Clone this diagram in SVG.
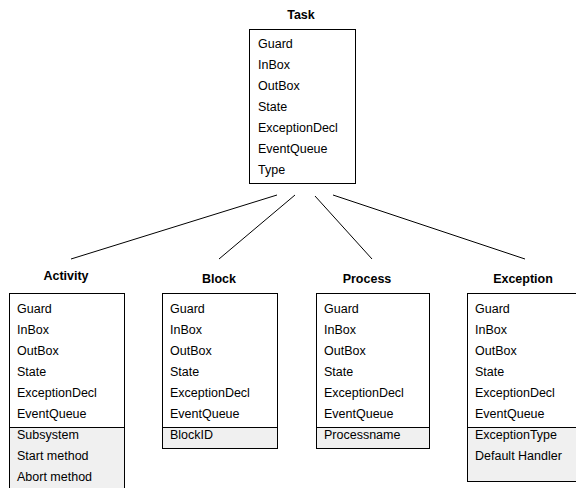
<svg xmlns="http://www.w3.org/2000/svg" width="576" height="488" viewBox="0 0 576 488">
<style>
.box{fill:#ffffff;stroke:#000;stroke-width:1}
.ext{fill:#f0f0f0;stroke:#000;stroke-width:1}
.t{font-family:"Liberation Sans",Arial,sans-serif;font-size:12.5px;fill:#000}
.h{font-family:"Liberation Sans",Arial,sans-serif;font-size:12.5px;font-weight:bold;fill:#000;text-anchor:middle}
.c{stroke:#000;stroke-width:1;fill:none}
</style>
<rect width="576" height="488" fill="#fff"/>
<g id="connectors">
<line class="c" x1="277" y1="195" x2="71" y2="259"/>
<line class="c" x1="295" y1="195" x2="219" y2="259"/>
<line class="c" x1="315" y1="196" x2="372" y2="259"/>
<line class="c" x1="333" y1="195" x2="525" y2="259"/>
</g>
<g id="task">
<text class="h" x="301" y="19">Task</text>
<rect class="box" x="249.5" y="29.5" width="106" height="154"/>
<text class="t" x="258" y="48">Guard</text>
<text class="t" x="258" y="69">InBox</text>
<text class="t" x="258" y="90">OutBox</text>
<text class="t" x="258" y="111">State</text>
<text class="t" x="258" y="132">ExceptionDecl</text>
<text class="t" x="258" y="153">EventQueue</text>
<text class="t" x="258" y="174">Type</text>
</g>
<g id="activity">
<text class="h" x="66" y="280">Activity</text>
<rect class="box" x="9.5" y="293.5" width="115" height="134"/>
<rect class="ext" x="9.5" y="427.5" width="115" height="65"/>
<text class="t" x="17" y="313">Guard</text>
<text class="t" x="17" y="334">InBox</text>
<text class="t" x="17" y="355">OutBox</text>
<text class="t" x="17" y="376">State</text>
<text class="t" x="17" y="397">ExceptionDecl</text>
<text class="t" x="17" y="418">EventQueue</text>
<text class="t" x="17" y="439">Subsystem</text>
<text class="t" x="17" y="460">Start method</text>
<text class="t" x="17" y="481">Abort method</text>
</g>
<g id="block">
<text class="h" x="219" y="283">Block</text>
<rect class="box" x="162.5" y="293.5" width="115" height="134"/>
<rect class="ext" x="162.5" y="427.5" width="115" height="21"/>
<text class="t" x="170" y="313">Guard</text>
<text class="t" x="170" y="334">InBox</text>
<text class="t" x="170" y="355">OutBox</text>
<text class="t" x="170" y="376">State</text>
<text class="t" x="170" y="397">ExceptionDecl</text>
<text class="t" x="170" y="418">EventQueue</text>
<text class="t" x="170" y="439">BlockID</text>
</g>
<g id="process">
<text class="h" x="367" y="283">Process</text>
<rect class="box" x="316.5" y="293.5" width="113" height="134"/>
<rect class="ext" x="316.5" y="427.5" width="113" height="21"/>
<text class="t" x="324" y="313">Guard</text>
<text class="t" x="324" y="334">InBox</text>
<text class="t" x="324" y="355">OutBox</text>
<text class="t" x="324" y="376">State</text>
<text class="t" x="324" y="397">ExceptionDecl</text>
<text class="t" x="324" y="418">EventQueue</text>
<text class="t" x="324" y="439">Processname</text>
</g>
<g id="exception">
<text class="h" x="523" y="283">Exception</text>
<rect class="box" x="467.5" y="293.5" width="115" height="134"/>
<rect class="ext" x="467.5" y="427.5" width="115" height="54"/>
<text class="t" x="475" y="313">Guard</text>
<text class="t" x="475" y="334">InBox</text>
<text class="t" x="475" y="355">OutBox</text>
<text class="t" x="475" y="376">State</text>
<text class="t" x="475" y="397">ExceptionDecl</text>
<text class="t" x="475" y="418">EventQueue</text>
<text class="t" x="475" y="439">ExceptionType</text>
<text class="t" x="475" y="460">Default Handler</text>
</g>
</svg>
